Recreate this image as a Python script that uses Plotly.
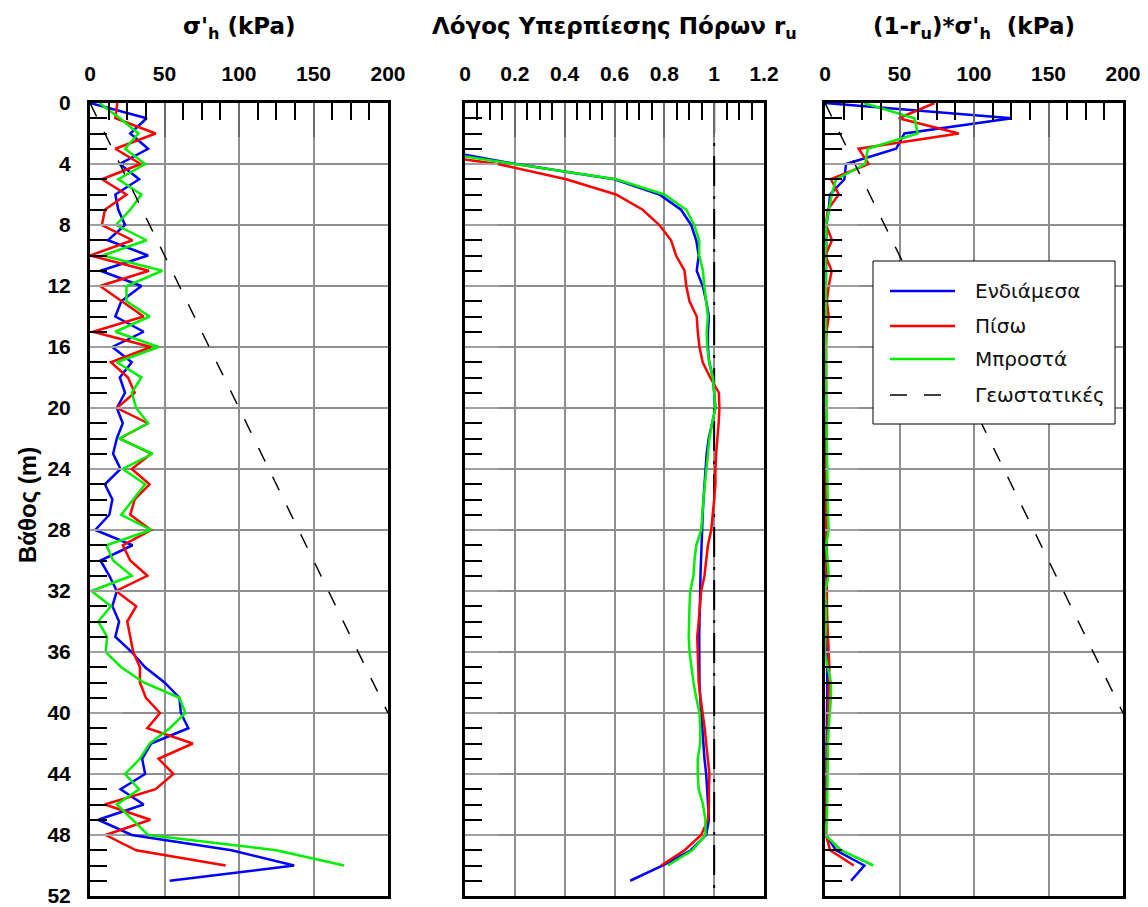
import plotly.graph_objects as go

# ---------------- data ----------------
depth = list(range(0, 52))          # m, every metre

# effective horizontal stress sigma'_h (kPa)
sh_mid = [0, 38, 27, 39, 20, 33, 17, 19, 23.5, 12, 39, 7, 34.5, 21, 17, 36, 15, 28, 20,
          23.5, 18, 22, 18, 15.5, 20.5, 10, 15, 13, 3.5, 28.5, 7, 13, 18, 15, 19.5, 17,
          28, 37, 50, 60, 61, 66, 41, 35, 37, 20.5, 36, 5.5, 28, 95, 137, 53.5]
sh_back = [18.3, 17, 44, 17, 34, 8, 24.5, 10, 8, 28.5, 0, 39.5, 6.7, 21, 36, 2, 41, 14, 25.5,
           30, 18, 39, 20, 41, 28, 40, 30, 27, 41, 22, 27, 38.5, 17.5, 31, 25, 27,
           29, 33.5, 33.5, 37.5, 47, 38.5, 69, 46, 56, 44, 10, 40.5, 10.5, 31, 91]
sh_front = [6.3, 20, 32.5, 23.5, 37, 19, 34.5, 27, 17.5, 38, 8.5, 48.5, 24.5, 24.5, 40, 17, 46, 18, 34.5,
            28, 31, 39, 19.5, 42, 22, 37, 29, 21, 41, 11, 15.5, 28, 1, 14, 5.5, 11.5,
            10.5, 21, 36, 60, 64, 53.5, 40, 33.5, 23.5, 33, 18, 28.5, 39, 125, 170.5]

# excess pore pressure ratio r_u
ru_mid_depth = [3.4] + list(range(4, 52))
ru_mid = [0, 0.205, 0.60, 0.78, 0.867, 0.908, 0.928, 0.938, 0.93, 0.954, 0.968, 0.979, 0.975,
          0.975, 0.98, 0.995, 1.0, 1.005, 0.992, 0.978, 0.97, 0.965, 0.96, 0.957, 0.954,
          0.951, 0.948, 0.946, 0.945, 0.944, 0.941, 0.941, 0.94, 0.94, 0.94, 0.941, 0.944,
          0.948, 0.952, 0.957, 0.961, 0.968, 0.972, 0.975, 0.979, 0.968, 0.906, 0.794, 0.663]
ru_back_depth = [3.7] + list(range(4, 51))
ru_back = [0, 0.131, 0.406, 0.606, 0.713, 0.78, 0.827, 0.847, 0.881, 0.888, 0.901, 0.93, 0.934,
           0.941, 0.954, 0.984, 1.019, 1.021, 1.018, 1.012, 1.008, 1.005, 1.005, 1.0, 0.995,
           0.988, 0.975, 0.968, 0.961, 0.948, 0.944, 0.938, 0.932, 0.934, 0.934, 0.938, 0.945,
           0.954, 0.962, 0.968, 0.975, 0.981, 0.979, 0.979, 0.975, 0.948, 0.881, 0.787]
ru_front_depth = [3.5] + list(range(4, 51))
ru_front = [0, 0.205, 0.606, 0.80, 0.888, 0.92, 0.94, 0.94, 0.955, 0.96, 0.968, 0.975, 0.97,
            0.972, 0.98, 0.995, 1.0, 1.005, 0.992, 0.981, 0.975, 0.968, 0.963, 0.957, 0.952,
            0.948, 0.928, 0.921, 0.917, 0.904, 0.901, 0.899, 0.898, 0.901, 0.908, 0.917, 0.928,
            0.941, 0.944, 0.944, 0.934, 0.934, 0.938, 0.955, 0.965, 0.965, 0.912, 0.814]

# reduced stress (1 - r_u) * sigma'_h (kPa)
red_mid = [0, 125.4, 53.3, 47.7, 14.1, 13, 3.4, 2.5, 1.0, 0.8, 0.5, 0.8, 0.6, 0.5, 0.5, 0.5,
           0.6, 0.6, 0.5, 0.4, 0.4, 0.5, 0.5, 0.5, 0.6, 0.6, 0.7, 0.7, 0.6, 0.8, 1.0, 1.0,
           1.0, 1.1, 1.1, 1.2, 1.3, 1.4, 1.5, 1.4, 1.3, 1.2, 1.2, 1.1, 1.0, 0.9, 0.8, 0.7,
           0.6, 7.4, 26.4, 17.5]
red_back = [73.5, 49.5, 89.8, 22.6, 29.3, 4, 9.2, 1.8, 0.7, 4.7, 0.2, 4.5, 2.5, 1.2, 2.5, 1.0,
            0.7, 0.7, 0.3, 0.4, 0.3, 0.4, 0.3, 0.5, 0.5, 0.6, 0.6, 0.8, 0.9, 0.8, 1.0, 1.2,
            1.0, 1.3, 1.5, 1.8, 2.5, 2.9, 2.6, 2.2, 1.8, 1.5, 1.5, 1.3, 1.2, 1.1, 1.0, 0.9,
            0.7, 3.4, 19.3]
red_front = [26, 60, 62.3, 28.7, 27, 7.4, 4.5, 2.5, 0.7, 0.9, 0.3, 0.6, 0.8, 0.6, 0.5, 0.4,
             0.5, 0.6, 0.5, 0.7, 0.8, 1.0, 1.0, 1.2, 1.3, 1.5, 1.8, 2.0, 2.5, 0.7, 1.8, 2.5,
             0.0, 0.7, 0.7, 0.2, 0.0, 1.8, 4.0, 4.0, 3.0, 2.5, 2.0, 1.8, 1.8, 1.8, 1.3, 1.3,
             0.2, 10.7, 32.5]

# geostatic horizontal stress
geo_depth = [0, 40]
geo_stress = [0, 200]

names = ["Ενδιάμεσα", "Πίσω", "Μπροστά", "Γεωστατικές"]
colors = ["#0000FF", "#FF0000", "#00EE00", "#000000"]

stress_ticks = [0, 50, 100, 150, 200]
ru_ticks = [0, 0.2, 0.4, 0.6, 0.8, 1.0, 1.2]
ru_ticktext = ["0", "0.2", "0.4", "0.6", "0.8", "1", "1.2"]
depth_ticks = list(range(0, 53, 4))

titles = ["σ'<sub>h</sub> (kPa)",
          "Λόγος Υπερπίεσης Πόρων r<sub>u</sub>",
          "(1-r<sub>u</sub>)*σ'<sub>h</sub> \u00a0(kPa)"]

# ---------------- layout geometry ----------------
W, H = 1148, 907
FONT = "Liberation Sans, Arial, sans-serif"
WIDE_FONT = "DejaVu Sans, Verdana, sans-serif"
px_x = lambda p: p / W
px_y = lambda p: 1 - p / H

domains = [(90, 388), (465, 764), (825, 1123)]
y_dom = [px_y(896), px_y(103)]

LINE_W = 2.5
GEO_DASH = "15px,17px"

fig = go.Figure()

series_sh = [sh_mid, sh_back, sh_front]
series_ru = [(ru_mid_depth, ru_mid), (ru_back_depth, ru_back), (ru_front_depth, ru_front)]
series_red = [red_mid, red_back, red_front]

for i in range(3):
    fig.add_trace(go.Scatter(x=series_sh[i], y=depth[:len(series_sh[i])], mode="lines",
                             line=dict(color=colors[i], width=LINE_W), name=names[i],
                             xaxis="x", yaxis="y", showlegend=False))
fig.add_trace(go.Scatter(x=geo_stress, y=geo_depth, mode="lines",
                         line=dict(color="black", width=1.5, dash=GEO_DASH),
                         name=names[3], xaxis="x", yaxis="y", showlegend=False))

for i in range(3):
    d, v = series_ru[i]
    fig.add_trace(go.Scatter(x=v, y=d, mode="lines",
                             line=dict(color=colors[i], width=LINE_W), name=names[i],
                             xaxis="x2", yaxis="y2", showlegend=False))

for i in range(3):
    fig.add_trace(go.Scatter(x=series_red[i], y=depth[:len(series_red[i])], mode="lines",
                             line=dict(color=colors[i], width=LINE_W), name=names[i],
                             xaxis="x3", yaxis="y3", showlegend=False))
fig.add_trace(go.Scatter(x=geo_stress, y=geo_depth, mode="lines",
                         line=dict(color="black", width=1.5, dash=GEO_DASH),
                         name=names[3], xaxis="x3", yaxis="y3", showlegend=False))

GRID = "#8f8f8f"
MAJOR_TICK = "#6a6a6a"
tickfont = dict(family=FONT, size=21, color="black", weight="bold")


def x_axis(dom, rng, tickvals, ticktext, minor_dtick, anchor):
    return dict(domain=[px_x(dom[0]), px_x(dom[1])], range=rng, side="top", anchor=anchor,
                tickmode="array", tickvals=tickvals, ticktext=ticktext,
                ticks="inside", ticklen=34, tickwidth=2, tickcolor=MAJOR_TICK,
                tickfont=tickfont, ticklabelstandoff=11, ticklabeloverflow="allow",
                showgrid=True, gridcolor=GRID, gridwidth=1.5, zeroline=False,
                showline=True, linecolor="black", linewidth=3, mirror=True,
                minor=dict(tickmode="linear", tick0=0, dtick=minor_dtick, ticks="inside",
                           ticklen=17, tickwidth=2, tickcolor="black", showgrid=False),
                automargin=False, fixedrange=True)


def y_axis(anchor, labels):
    return dict(domain=y_dom, range=[52, 0], anchor=anchor,
                tickmode="array", tickvals=depth_ticks,
                ticktext=[str(t) for t in depth_ticks],
                showticklabels=labels,
                ticks="inside", ticklen=33, tickwidth=2, tickcolor="#a0a0a0",
                tickfont=tickfont, ticklabelstandoff=12, ticklabeloverflow="allow",
                showgrid=True, gridcolor=GRID, gridwidth=1.5, zeroline=False,
                showline=True, linecolor="black", linewidth=3, mirror=True,
                minor=dict(tickmode="linear", tick0=0, dtick=1, ticks="inside",
                           ticklen=17, tickwidth=2, tickcolor="black", showgrid=False),
                automargin=False, fixedrange=True)


fig.update_layout(
    width=W, height=H,
    margin=dict(l=0, r=0, t=0, b=0),
    paper_bgcolor="white", plot_bgcolor="white",
    font=dict(family=FONT, color="black"),
    showlegend=False,
    xaxis=x_axis(domains[0], [0, 200], stress_ticks, [str(t) for t in stress_ticks], 12.5, "y"),
    xaxis2=x_axis(domains[1], [0, 1.2], ru_ticks, ru_ticktext, 0.05, "y2"),
    xaxis3=x_axis(domains[2], [0, 200], stress_ticks, [str(t) for t in stress_ticks], 12.5, "y3"),
    yaxis=y_axis("x", True),
    yaxis2=y_axis("x2", False),
    yaxis3=y_axis("x3", False),
)

# r_u = 1 reference line
fig.add_shape(type="line", xref="x2", yref="y2", x0=1, x1=1, y0=0, y1=52,
              line=dict(color="black", width=2, dash="30px,10px,3px,10px"), layer="between")

# panel titles
for dom, t in zip(domains, titles):
    fig.add_annotation(x=px_x((dom[0] + dom[1]) / 2), y=px_y(28), xref="paper", yref="paper",
                       text=t, showarrow=False, xanchor="center", yanchor="middle",
                       font=dict(family=WIDE_FONT, size=23, color="black", weight="bold"))

# depth axis title
fig.add_annotation(x=px_x(27), y=px_y(505), xref="paper", yref="paper", text="Βάθος (m)",
                   showarrow=False, textangle=-90, xanchor="center", yanchor="middle",
                   font=dict(family=FONT, size=24, color="black", weight="bold"))

# legend box inside the third panel
lg_x0, lg_x1, lg_y0, lg_y1 = 873, 1115, 261, 424
fig.add_shape(type="rect", xref="paper", yref="paper",
              x0=px_x(lg_x0), x1=px_x(lg_x1), y0=px_y(lg_y1), y1=px_y(lg_y0),
              line=dict(color="black", width=1), fillcolor="white", layer="above")
row_y = [291, 326, 359, 395]
for i, ry in enumerate(row_y):
    style = dict(color=colors[i], width=LINE_W if i < 3 else 1.5)
    if i == 3:
        style["dash"] = "17px,17px"
    fig.add_shape(type="line", xref="paper", yref="paper",
                  x0=px_x(890), x1=px_x(955), y0=px_y(ry), y1=px_y(ry),
                  line=style, layer="above")
    fig.add_annotation(x=px_x(973), y=px_y(ry), xref="paper", yref="paper", text=names[i],
                       showarrow=False, xanchor="left", yanchor="middle",
                       font=dict(family=WIDE_FONT, size=20, color="#111111"))

fig.write_html("out.html")
